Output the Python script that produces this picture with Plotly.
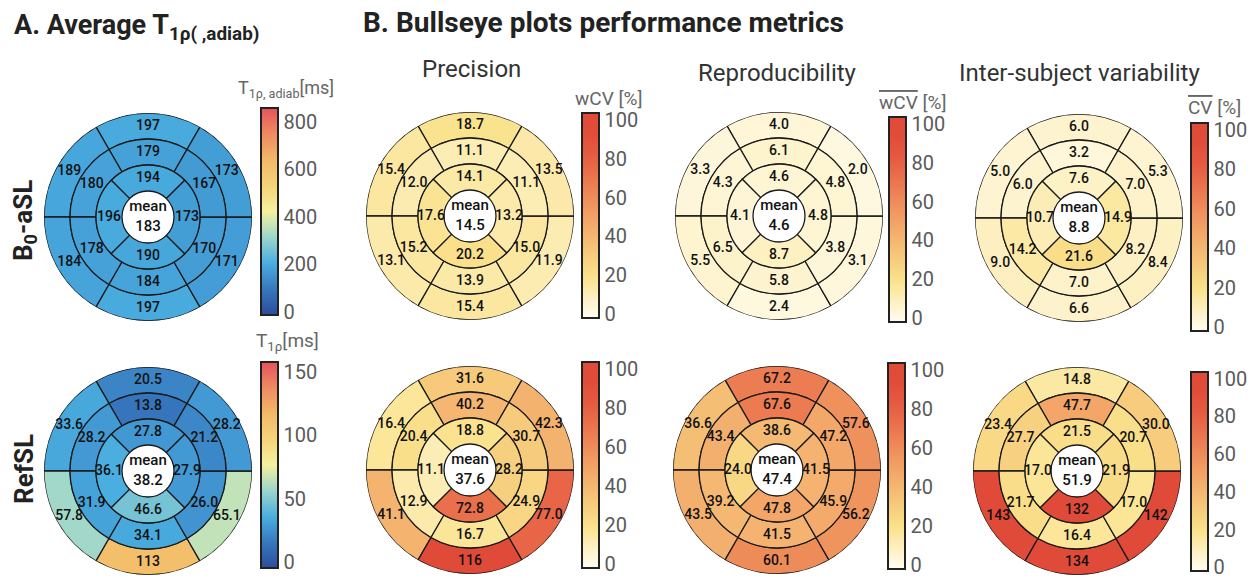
import plotly.graph_objects as go

W, H = 1258, 578

# Segment values, AHA order:
# basal ring  (anterior, anteroseptal, inferoseptal, inferior, inferolateral, anterolateral)
# mid ring    (same order)
# apical ring (anterior, septal, inferior, lateral)
t1rho_b0asl = [197, 189, 184, 197, 171, 173,
               179, 180, 178, 184, 170, 167,
               194, 196, 190, 173]
t1rho_refsl = [20.5, 33.6, 57.8, 113, 65.1, 28.2,
               13.8, 28.2, 31.9, 34.1, 26.0, 21.2,
               27.8, 36.1, 46.6, 27.9]
precision_b0asl = [18.7, 15.4, 13.1, 15.4, 11.9, 13.5,
                   11.1, 12.0, 15.2, 13.9, 15.0, 11.1,
                   14.1, 17.6, 20.2, 13.2]
precision_refsl = [31.6, 16.4, 41.1, 116, 77.0, 42.3,
                   40.2, 20.4, 12.9, 16.7, 24.9, 30.7,
                   18.8, 11.1, 72.8, 28.2]
reproducibility_b0asl = [4.0, 3.3, 5.5, 2.4, 3.1, 2.0,
                         6.1, 4.3, 6.5, 5.8, 3.8, 4.8,
                         4.6, 4.1, 8.7, 4.8]
reproducibility_refsl = [67.2, 36.6, 43.5, 60.1, 56.2, 57.6,
                         67.6, 43.4, 39.2, 41.5, 45.9, 47.2,
                         38.6, 24.0, 47.8, 41.5]
intersubject_b0asl = [6.0, 5.0, 9.0, 6.6, 8.4, 5.3,
                      3.2, 6.0, 14.2, 7.0, 8.2, 7.0,
                      7.6, 10.7, 21.6, 14.9]
intersubject_refsl = [14.8, 23.4, 143, 134, 142, 30.0,
                      47.7, 27.7, 21.7, 16.4, 17.0, 20.7,
                      21.5, 17.0, 132, 21.9]

# global means shown in the centre of each bullseye
mean_t1rho_b0asl = 183
mean_t1rho_refsl = 38.2
mean_precision_b0asl = 14.5
mean_precision_refsl = 37.6
mean_reproducibility_b0asl = 4.6
mean_reproducibility_refsl = 47.4
mean_intersubject_b0asl = 8.8
mean_intersubject_refsl = 51.9

# colour bar ticks
ticks_t1rho_adiab = [0, 200, 400, 600, 800]
ticks_t1rho = [0, 50, 100, 150]
ticks_cv = [0, 20, 40, 60, 80, 100]

# bullseye geometry (16 segments)
seg_theta = [90, 150, 210, 270, 330, 30] * 2 + [90, 180, 270, 0]
seg_width = [60] * 12 + [90] * 4
seg_base = [3] * 6 + [2] * 6 + [1] * 4
seg_len = [1] * 16
label_r = [3.5] * 6 + [2.5] * 6 + [1.5] * 4

t1_scale = [
    [0.00, "#2d4c9c"], [0.12, "#3676bd"], [0.25, "#4aaee0"],
    [0.38, "#9fd7cb"], [0.50, "#f4f29f"], [0.62, "#f6d57a"],
    [0.75, "#f3b967"], [0.88, "#ee8862"], [1.00, "#e5545b"],
]
cv_scale = [
    [0.00, "#fffdf2"], [0.10, "#fdf0c2"], [0.20, "#fae28c"],
    [0.30, "#f7cd7d"], [0.40, "#f4b671"], [0.50, "#f2a065"],
    [0.60, "#ee8958"], [0.70, "#ea714c"], [0.80, "#e55b41"],
    [0.90, "#e24d3a"], [1.00, "#e04a38"],
]

R = 104  # outer radius in px
# (values, mean, centre x, centre y, scale, lo, hi, ticks, cbar x, cbar top, cbar bottom)
panels = [
    (t1rho_b0asl, mean_t1rho_b0asl, 148, 217, t1_scale, -13, 859, ticks_t1rho_adiab, 261, 108, 315),
    (t1rho_refsl, mean_t1rho_refsl, 148, 471, t1_scale, -4.7, 158, ticks_t1rho, 261, 362, 568),
    (precision_b0asl, mean_precision_b0asl, 470, 216, cv_scale, -2, 103.5, ticks_cv, 582, 113, 318),
    (precision_refsl, mean_precision_refsl, 470, 470, cv_scale, -2, 103.5, ticks_cv, 582, 362, 568),
    (reproducibility_b0asl, mean_reproducibility_b0asl, 779, 216, cv_scale, -2, 103.5, ticks_cv, 889, 117, 322),
    (reproducibility_refsl, mean_reproducibility_refsl, 777, 470, cv_scale, -2, 103.5, ticks_cv, 888, 363, 569),
    (intersubject_b0asl, mean_intersubject_b0asl, 1079, 218, cv_scale, -2, 103.5, ticks_cv, 1191, 123, 331),
    (intersubject_refsl, mean_intersubject_refsl, 1077, 471, cv_scale, -2, 103.5, ticks_cv, 1191, 372, 571),
]


def fmt(v):
    return f"{v:.0f}" if v >= 100 else f"{v:.1f}"


num_font = "Roboto, sans-serif"

fig = go.Figure()
layout_polars = {}
for i, (vals, mean, cx, cy, scale, lo, hi, ticks, bx, btop, bbot) in enumerate(panels):
    name = "polar" if i == 0 else f"polar{i + 1}"
    fig.add_trace(go.Barpolar(
        r=seg_len, base=seg_base, theta=seg_theta, width=seg_width,
        subplot=name,
        marker=dict(
            color=vals, colorscale=scale, cmin=lo, cmax=hi,
            line=dict(color="#1a1a1a", width=1.3),
            showscale=True,
            colorbar=dict(
                x=bx / W, xanchor="left", xpad=0,
                y=1 - btop / H, yanchor="top", ypad=0,
                len=bbot - btop, lenmode="pixels",
                thickness=17, outlinewidth=2, outlinecolor="#222",
                tickvals=ticks, ticks="", ticklabeloverflow="allow",
                tickfont=dict(family="Roboto", size=20, color="#5a5a5a"),
            ),
        ),
        hoverinfo="skip",
    ))
    fig.add_trace(go.Scatterpolar(
        r=label_r, theta=seg_theta,
        mode="text", subplot=name,
        text=[fmt(v) for v in vals],
        textfont=dict(family=num_font, size=14, color="#111", weight=500),
        hoverinfo="skip", cliponaxis=False,
    ))
    fig.add_trace(go.Scatterpolar(
        r=[0], theta=[0],
        mode="text", subplot=name,
        text=[f"mean<br>{fmt(mean)}"],
        textfont=dict(family=num_font, size=15, color="#111", weight=500),
        hoverinfo="skip", cliponaxis=False,
    ))
    layout_polars[name] = dict(
        domain=dict(x=[(cx - R) / W, (cx + R) / W],
                    y=[1 - (cy + R) / H, 1 - (cy - R) / H]),
        bgcolor="white", bargap=0, hole=0,
        radialaxis=dict(range=[0, 4], visible=False),
        angularaxis=dict(visible=False, rotation=0, direction="counterclockwise"),
    )


def px(x, y, xa="center"):
    return dict(x=x / W, y=1 - y / H, xref="paper", yref="paper", showarrow=False,
                xanchor=xa, yanchor="middle")


head_font = dict(family="Roboto", size=24, color="#333")
label_font = dict(family="Roboto", size=19, color="#666")
row_font = dict(family="Roboto", size=26, color="#222")
annotations = [
    dict(text="<b>A. Average T<sub>1ρ( ,adiab)</sub></b>",
         font=dict(family="Roboto", size=27, color="#222"), **px(12, 27, "left")),
    dict(text="<b>B. Bullseye plots performance metrics</b>",
         font=dict(family="Roboto", size=28, color="#222"), **px(361, 22, "left")),
    dict(text="Precision", font=head_font, **px(471, 69)),
    dict(text="Reproducibility", font=head_font, **px(777, 73)),
    dict(text="Inter-subject variability", font=head_font, **px(1079, 73)),
    dict(text="<b>B<sub>0</sub>-aSL</b>", textangle=-90, font=row_font, **px(25, 221)),
    dict(text="<b>RefSL</b>", textangle=-90, font=row_font, **px(24, 469)),
    dict(text="T<sub>1ρ, adiab</sub>[ms]", font=dict(family="Roboto", size=18, color="#666"), **px(286, 89)),
    dict(text="T<sub>1ρ</sub>[ms]", font=label_font, **px(287, 341)),
    dict(text="wCV [%]", font=label_font, **px(608, 99)),
    dict(text='<span style="text-decoration:overline">wCV</span> [%]', font=label_font, **px(912, 102)),
    dict(text='<span style="text-decoration:overline">CV</span> [%]', font=label_font, **px(1214, 107)),
]

fig.update_layout(
    width=W, height=H,
    margin=dict(l=0, r=0, t=0, b=0),
    paper_bgcolor="white", plot_bgcolor="white",
    showlegend=False,
    annotations=annotations,
    **layout_polars,
)

fig.write_html("out.html")
